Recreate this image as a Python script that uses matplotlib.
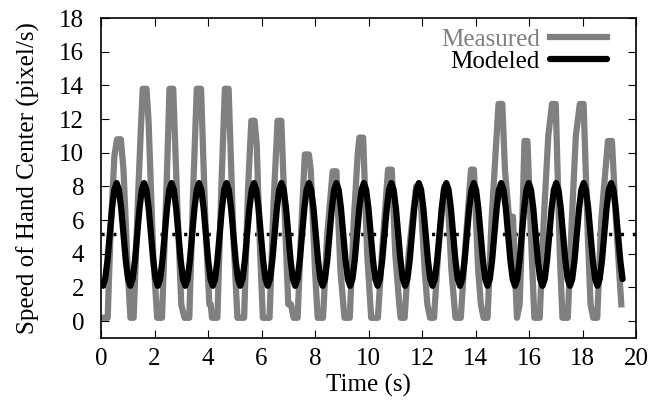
import numpy as np
import matplotlib
matplotlib.use("Agg")
import matplotlib.pyplot as plt

plt.rcParams['font.family'] = ['Liberation Serif', 'DejaVu Serif']

# measured speed, vertices (time s, speed pixel/s)
meas_t = [0.0, 0.25, 0.35, 0.5, 0.6, 0.74, 0.84, 1.0, 1.1, 1.22,
          1.4, 1.5, 1.56, 1.7, 1.78, 1.95, 2.1, 2.28,
          2.45, 2.56, 2.7, 2.85, 3.0, 3.12, 3.3,
          3.45, 3.58, 3.74, 3.9, 4.05, 4.1, 4.15, 4.35,
          4.5, 4.63, 4.77, 4.95, 5.1, 5.35,
          5.5, 5.62, 5.74, 5.82, 5.95, 6.05, 6.3,
          6.45, 6.6, 6.74, 6.9, 7.0, 7.1, 7.2, 7.35,
          7.5, 7.62, 7.77, 7.84, 8.0, 8.1, 8.3,
          8.45, 8.66, 8.8, 8.95, 9.1, 9.3,
          9.45, 9.6, 9.66, 9.8, 9.95, 10.1, 10.35,
          10.5, 10.73, 10.87, 11.0, 11.15, 11.2, 11.35,
          11.5, 11.78, 11.92, 12.1, 12.2, 12.3, 12.45,
          12.6, 12.83, 12.94, 13.1, 13.25, 13.45,
          13.6, 13.83, 13.94, 14.1, 14.2, 14.3, 14.45,
          14.6, 14.75, 14.86, 15.0, 15.1, 15.25, 15.4, 15.5, 15.55, 15.65,
          15.75, 15.83, 15.94, 16.1, 16.2, 16.4,
          16.55, 16.72, 16.86, 17.0, 17.15, 17.25, 17.45,
          17.6, 17.75, 17.9, 18.04, 18.2, 18.3, 18.4, 18.55,
          18.7, 18.95, 19.1, 19.25, 19.45]
meas_v = [0.2, 0.2, 5, 9.8, 10.8, 10.8, 9, 3, 0.2, 0.2,
          8, 11.8, 13.8, 13.8, 11.8, 4, 0.2, 0.2,
          8, 13.8, 13.8, 7, 1, 0.2, 0.2,
          8, 13.8, 13.8, 6, 1, 1, 0.2, 0.2,
          8, 13.8, 13.8, 5, 0.2, 0.2,
          8, 11.9, 11.9, 10.5, 4, 0.2, 0.2,
          7, 11.9, 11.9, 5, 1, 1, 0.2, 0.2,
          6, 9.9, 9.9, 9, 3, 0.2, 0.2,
          5, 8.9, 8.9, 3, 0.2, 0.2,
          6, 10, 10.9, 10.9, 4, 0.2, 0.2,
          4, 9.0, 9.0, 4, 1, 0.2, 0.2,
          4, 8, 8, 3, 1, 0.2, 0.2,
          4, 8, 8, 3, 0.2, 0.2,
          4, 9.0, 9.0, 3, 1, 0.2, 0.2,
          6, 10, 12.9, 12.9, 9, 6.2, 6.2, 2, 0.2, 1,
          6, 10.7, 10.7, 4, 0.2, 0.2,
          6, 11, 12.9, 12.9, 4, 0.2, 0.2,
          6, 11, 12.9, 12.9, 5, 1, 0.2, 0.2,
          6, 10.7, 10.7, 6, 1]

# modeled speed, read every 1/12 of a cycle (cycle ~1.027 s)
model_step = 1.027 / 12
model_v = [2.15] + [
    2.1, 2.5, 3.6, 5.15, 6.7, 7.8, 8.2, 7.8, 6.7, 5.15, 3.6, 2.5,
    2.1, 2.5, 3.6, 5.15, 6.7, 7.8, 8.2, 7.8, 6.7, 5.15, 3.6, 2.5,
    2.1, 2.5, 3.6, 5.15, 6.7, 7.8, 8.2, 7.8, 6.7, 5.15, 3.6, 2.5,
    2.1, 2.5, 3.6, 5.15, 6.7, 7.8, 8.2, 7.8, 6.7, 5.15, 3.6, 2.5,
    2.1, 2.5, 3.6, 5.15, 6.7, 7.8, 8.2, 7.8, 6.7, 5.15, 3.6, 2.5,
    2.1, 2.5, 3.6, 5.15, 6.7, 7.8, 8.2, 7.8, 6.7, 5.15, 3.6, 2.5,
    2.1, 2.5, 3.6, 5.15, 6.7, 7.8, 8.2, 7.8, 6.7, 5.15, 3.6, 2.5,
    2.1, 2.5, 3.6, 5.15, 6.7, 7.8, 8.2, 7.8, 6.7, 5.15, 3.6, 2.5,
    2.1, 2.5, 3.6, 5.15, 6.7, 7.8, 8.2, 7.8, 6.7, 5.15, 3.6, 2.5,
    2.1, 2.5, 3.6, 5.15, 6.7, 7.8, 8.2, 7.8, 6.7, 5.15, 3.6, 2.5,
    2.1, 2.5, 3.6, 5.15, 6.7, 7.8, 8.2, 7.8, 6.7, 5.15, 3.6, 2.5,
    2.1, 2.5, 3.6, 5.15, 6.7, 7.8, 8.2, 7.8, 6.7, 5.15, 3.6, 2.5,
    2.1, 2.5, 3.6, 5.15, 6.7, 7.8, 8.2, 7.8, 6.7, 5.15, 3.6, 2.5,
    2.1, 2.5, 3.6, 5.15, 6.7, 7.8, 8.2, 7.8, 6.7, 5.15, 3.6, 2.5,
    2.1, 2.5, 3.6, 5.15, 6.7, 7.8, 8.2, 7.8, 6.7, 5.15, 3.6, 2.5,
    2.1, 2.5, 3.6, 5.15, 6.7, 7.8, 8.2, 7.8, 6.7, 5.15, 3.6, 2.5,
    2.1, 2.5, 3.6, 5.15, 6.7, 7.8, 8.2, 7.8, 6.7, 5.15, 3.6, 2.5,
    2.1, 2.5, 3.6, 5.15, 6.7, 7.8, 8.2, 7.8, 6.7, 5.15, 3.6, 2.5,
    2.1, 2.5, 3.6, 5.15, 6.7, 7.8, 8.2, 7.8, 6.7, 5.15, 3.6, 2.5,
]
model_t = np.concatenate([[0.0], 0.07 + model_step * np.arange(len(model_v) - 1)])
mean_level = 5.15

fig = plt.figure(figsize=(6.5, 4.01), dpi=100)
ax = fig.add_axes([0.1554, 0.1571, 0.8231, 0.7979])

ax.axhline(mean_level, color="black", lw=2.5, ls=(0, (0.9, 2.5)), zorder=1)
ax.plot(meas_t, meas_v, color="#808080", lw=4.5, label="Measured", zorder=2)
ax.plot(model_t, model_v, color="black", lw=4.5, label="Modeled", zorder=3,
        solid_capstyle="round")

ax.set_xlim(0, 20)
ax.set_ylim(-1, 18)
ax.set_xticks(np.arange(0, 21, 2))
ax.set_yticks(np.arange(0, 19, 2))
ax.tick_params(direction="in", top=True, right=True, length=6, labelsize=18)
ax.tick_params(axis="y", pad=12)
ax.tick_params(axis="x", pad=7)
for s in ax.spines.values():
    s.set_linewidth(1.2)
ax.set_xlabel("Time (s)", fontsize=18, labelpad=3)
ax.set_ylabel("Speed of Hand Center (pixel/s)", fontsize=18, labelpad=14)

ax.legend(loc="upper right", frameon=False, markerfirst=False, labelcolor="linecolor",
          fontsize=18, handlelength=2.3, handletextpad=0.4, labelspacing=0.0,
          borderaxespad=0.0, bbox_to_anchor=(0.965, 1.0))

fig.savefig("out.png", dpi=100)
